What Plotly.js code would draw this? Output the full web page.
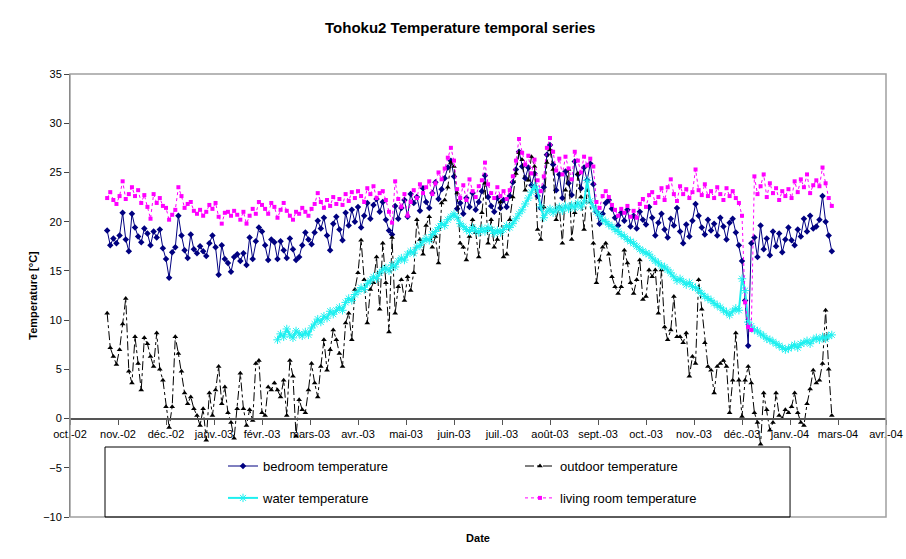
<!DOCTYPE html>
<html><head><meta charset="utf-8">
<script src="https://cdn.plot.ly/plotly-3.0.1.min.js"></script>
<style>html,body{margin:0;padding:0;background:#fff}#chart{width:906px;height:559px}</style>
</head><body><div id="chart"></div>
<script>
// ---- data (one value every 2 days) ----
const START_DATE = '2002-11-15';
const STEP_DAYS = 2;
const WATER_START_INDEX = 55;

const bedroom = [
19.1,17.6,18.3,17.8,18.6, 20.9,18.2,17.0,20.8,19.4, 18.5,17.9,19.3,18.8,17.6, 19.0,18.4,19.2,17.3,16.2,
14.3,16.9,17.4,20.6,18.6, 17.1,16.3,18.7,17.2,16.8, 17.5,17.0,16.5,17.8,18.6, 17.4,14.6,17.6,16.2,15.8,
14.9,16.4,16.7,16.0,16.8, 15.6,18.4,16.2,18.0,19.4, 19.0,17.6,16.1,18.2,17.9, 16.2,18.0,17.1,16.3,18.3,
17.2,16.1,16.4,17.6,18.9, 18.2,17.7,18.9,20.1,19.3, 20.4,18.6,17.1,19.8,20.5, 19.2,18.1,20.9,19.6,21.2,
20.0,21.5,19.4,20.6,21.9, 20.3,21.7,22.3,21.0,22.0, 20.2,19.1,18.7,21.6,20.3, 21.4,22.2,20.5,22.8,21.9,
22.5,21.1,23.4,22.0,21.4, 22.9,24.0,22.3,23.3,24.4, 25.5,26.2,24.6,21.3,21.9, 20.8,22.4,21.5,22.9,21.2,
22.0,23.1,24.7,22.5,21.6, 21.0,22.4,21.4,22.2,21.5, 22.6,24.0,25.3,27.1,25.6, 24.4,25.5,23.7,24.9,22.6,
21.4,23.5,26.8,27.8,25.8, 23.2,24.8,22.4,25.1,23.9, 22.7,26.1,24.8,23.4,25.5, 24.2,25.9,23.8,21.0,19.8,
20.8,21.9,22.2,21.3,20.4, 19.6,20.9,20.1,21.2,19.5, 20.6,19.3,21.0,20.2,19.7, 21.5,20.4,18.6,19.9,20.8,
19.2,18.4,20.3,19.6,21.4, 19.0,17.8,19.7,18.5,20.1, 21.8,20.6,19.4,18.7,20.2, 19.1,19.8,18.6,20.4,19.5,
18.2,19.9,20.3,18.9,17.6, 16.0,12.0,7.4,17.8,18.4, 16.4,19.6,17.2,18.3,16.6, 19.0,17.5,18.8,16.9,18.2,
19.4,18.1,17.6,19.2,18.5, 20.3,19.0,20.6,19.3,19.5, 20.2,22.6,20.0,18.6,17.0
];

const outdoor = [
10.7,7.2,6.3,5.5,7.0, 9.6,12.2,4.8,3.6,8.3, 5.6,2.9,8.2,7.6,6.3, 5.3,8.7,5.0,3.9,1.2,
-0.9,1.2,8.3,6.6,4.8, 2.6,1.5,2.2,1.0,0.3, -0.7,1.0,-2.2,2.6,0.3, 2.9,5.3,1.5,3.2,0.6,
-0.4,-2.0,1.0,4.6,1.0, -0.7,0.9,-0.2,5.6,5.9, 0.6,0.3,3.2,2.9,3.6, 2.9,2.2,3.9,0.3,5.9,
4.3,-1.8,1.9,0.9,0.6, 2.9,5.6,3.6,2.2,5.3, 8.0,4.9,7.0,9.0,8.0, 6.6,5.3,9.7,10.7,8.0,
13.1,14.8,18.1,14.1,9.7, 13.1,13.8,16.4,11.1,17.8, 13.8,8.8,18.4,10.7,13.4, 14.1,12.0,14.4,13.0,14.8,
20.2,18.2,16.7,19.6,20.5, 17.4,18.5,15.8,21.9,22.2, 23.5,26.0,25.6,22.9,17.8, 17.4,16.1,18.5,20.2,18.9,
16.4,20.9,23.9,17.8,20.2, 17.4,18.2,22.0,16.4,16.7, 20.2,22.5,24.9,27.0,26.3, 23.2,24.2,26.6,25.6,19.2,
18.2,21.5,26.0,27.3,25.3, 20.2,21.5,17.8,23.2,25.3, 18.2,20.9,24.9,22.5,19.2, 23.2,22.0,17.8,13.8,16.1,
17.4,17.8,16.7,14.4,13.4, 12.7,13.4,17.1,15.8,13.8, 12.7,14.1,16.1,12.1,12.4, 15.1,14.4,15.1,10.7,15.1,
9.3,8.0,9.0,12.4,8.3, 8.3,7.7,8.7,4.3,6.3, 5.6,14.1,11.1,7.7,5.3, 4.9,2.6,5.3,5.6,5.9,
5.3,0.6,3.9,8.7,3.9, 0.2,3.9,5.3,3.6,0.6, -0.4,-2.6,2.6,0.9,-1.2, -0.4,2.6,0.3,0.0,0.9,
0.6,1.2,2.6,0.6,-0.4, -0.7,1.5,3.0,4.9,3.6, 3.9,5.6,11.0,5.0,0.3
];

const water = [
8.0,8.6,8.3,9.1,8.5, 8.2,8.9,8.6,8.4,8.8, 8.5,9.2,9.6,10.1,9.8, 10.4,10.2,10.9,10.6,11.0,
11.3,11.0,11.8,12.2,12.0, 12.6,12.9,13.3,13.1,13.7, 14.0,14.4,14.2,14.8,15.1, 15.3,15.0,15.6,15.4,16.0,
16.3,16.1,16.7,17.0,16.8, 17.4,17.6,18.0,18.3,18.1, 18.7,19.0,19.4,19.8,19.6, 20.2,20.5,20.8,20.4,19.8,
19.5,19.2,19.0,19.4,19.1, 18.9,19.3,19.0,19.4,19.2, 18.8,19.1,18.9,19.2,19.6, 19.4,19.8,20.3,20.8,21.2,
21.8,22.4,23.0,23.6,23.2, 21.5,20.4,21.0,21.3,20.9, 21.2,21.5,21.1,21.6,21.3, 21.7,21.4,21.9,21.5,22.0,
24.2,22.1,21.5,21.0,20.6, 20.2,20.0,19.7,19.5,19.2, 19.0,18.7,18.5,18.2,18.0, 17.8,17.5,17.2,17.0,16.8,
16.7,16.3,16.0,15.8,15.5, 15.4,15.1,14.8,14.4,14.0, 14.2,13.9,13.6,13.8,13.4, 13.3,13.0,12.7,12.4,12.2,
12.0,11.7,11.5,11.3,11.0, 10.8,10.5,10.9,11.2,11.0, 14.2,13.0,9.8,9.4,9.0, 8.9,8.6,8.4,8.1,8.0,
7.8,7.6,7.4,7.2,7.0, 7.1,7.3,7.5,7.2,7.6, 7.7,7.9,7.6,8.0,8.2, 8.0,8.3,8.1,8.4,8.5
];

const livingRoom = [
22.4,23.0,22.2,21.8,22.6, 24.1,22.3,22.8,23.5,22.6, 23.2,21.9,22.7,21.5,20.3, 22.8,21.9,22.4,21.6,21.4,
20.2,20.7,21.2,23.5,22.6, 21.4,21.8,22.0,21.1,20.8, 21.2,20.6,21.0,21.7,21.3, 21.9,20.5,19.8,20.9,21.0,
20.6,21.1,20.7,20.2,21.0, 19.8,20.6,21.3,20.8,22.0, 21.7,21.3,20.8,21.9,21.5, 20.4,21.2,21.9,21.1,20.6,
20.2,21.0,20.8,21.4,21.0, 20.6,21.3,21.8,22.9,22.0, 21.4,22.2,21.6,22.5,21.8, 22.3,21.7,22.8,22.1,23.0,
22.4,23.1,22.6,22.0,23.4, 22.8,23.6,22.4,22.9,23.1, 22.2,21.0,19.9,24.1,22.3, 21.5,22.8,20.6,22.0,23.2,
22.4,23.8,22.9,23.5,24.1, 22.8,23.9,25.0,24.3,25.4, 26.5,27.5,26.2,23.3,22.4, 23.7,22.2,24.3,23.1,22.5,
23.6,24.2,26.0,23.8,22.9, 22.4,23.5,22.6,23.1,22.3, 23.2,24.6,26.2,28.4,27.0, 25.8,26.7,24.9,26.3,24.2,
23.1,24.6,27.5,28.5,27.1, 25.2,26.4,24.8,26.6,25.4, 24.3,27.1,26.2,25.0,26.6, 25.7,26.4,25.6,22.0,21.4,
22.6,23.1,22.5,21.7,21.2, 20.6,21.3,20.9,21.6,20.5, 21.1,20.4,21.8,22.3,21.5, 22.7,23.0,21.9,22.5,23.4,
22.2,23.5,24.3,22.8,22.1, 23.6,22.8,23.3,22.4,23.0, 25.3,23.2,22.7,23.8,22.6, 23.1,22.4,23.5,22.8,22.2,
23.4,22.6,23.1,22.4,21.9, 20.6,11.8,9.3,9.0,24.6, 22.8,23.6,24.8,22.5,23.9, 22.9,23.4,22.2,23.1,22.6,
23.3,22.4,24.1,23.0,24.3, 23.5,24.8,22.9,23.7,24.2, 23.6,25.5,23.9,22.4,21.6
];

const AXIS_RANGE = ['2002-10-22', '2004-04-01'];
const TICK_DATES = ['2002-10-22','2002-11-22','2002-12-23','2003-01-23','2003-02-23','2003-03-26',
  '2003-04-26','2003-05-27','2003-06-27','2003-07-28','2003-08-28','2003-09-28','2003-10-29',
  '2003-11-29','2003-12-30','2004-01-30','2004-03-01','2004-04-01'];
const TICK_LABELS = ['oct.-02','nov.-02','déc.-02','janv.-03','févr.-03','mars-03','avr.-03','mai-03',
  'juin-03','juil.-03','août-03','sept.-03','oct.-03','nov.-03','déc.-03','janv.-04','mars-04','avr.-04'];
const Y_RANGE = [-10, 35];

// ---- build ----
const t0 = new Date(START_DATE + 'T00:00:00Z').getTime();
function dateAt(i){ return new Date(t0 + i*STEP_DAYS*86400000).toISOString().slice(0,10); }
const dates = bedroom.map((_, i) => dateAt(i));
const waterDates = water.map((_, i) => dateAt(i + WATER_START_INDEX));

const FONT = 'Liberation Sans, Arial, sans-serif';

const traces = [
  {name:'bedroom temperature', x:dates, y:bedroom, type:'scatter', mode:'lines+markers',
   line:{color:'#000080', width:1}, marker:{symbol:'diamond', size:5, color:'#000080'}, legend:'legend'},
  {name:'outdoor temperature', x:dates, y:outdoor, type:'scatter', mode:'lines+markers',
   line:{color:'#000000', width:1, dash:'dashdot'}, marker:{symbol:'triangle-up', size:5, color:'#000000'}, legend:'legend'},
  {name:'water temperature', x:waterDates, y:water, type:'scatter', mode:'lines+markers',
   line:{color:'#1ff0f0', width:2}, marker:{symbol:'asterisk-open', size:7, color:'#1ff0f0', line:{color:'#1ff0f0', width:1}}, legend:'legend2'},
  {name:'living room temperature', x:dates, y:livingRoom, type:'scatter', mode:'lines+markers',
   line:{color:'#ff00ff', width:1, dash:'dot'}, marker:{symbol:'square', size:4, color:'#ff00ff'}, legend:'legend2'}
];

const legendCommon = {orientation:'h', xanchor:'left', yanchor:'middle', x:0.1875,
  entrywidth:252, entrywidthmode:'pixels', bgcolor:'rgba(0,0,0,0)', borderwidth:0,
  font:{family:FONT, size:13, color:'#000'}};

const layout = {
  width:906, height:559,
  margin:{l:70, r:20, t:74, b:42},
  paper_bgcolor:'#ffffff', plot_bgcolor:'#ffffff',
  font:{family:FONT, color:'#000'},
  title:{text:'Tohoku2 Temperature temporal series', x:0.508, xanchor:'center', y:0.95, yanchor:'middle',
         font:{family:FONT, size:15, weight:'bold', color:'#000'}},
  xaxis:{type:'date', range:AXIS_RANGE, tickmode:'array', tickvals:TICK_DATES, ticktext:TICK_LABELS,
         anchor:'free', position:(0 - Y_RANGE[0])/(Y_RANGE[1]-Y_RANGE[0]), automargin:false,
         showline:true, linecolor:'#555', linewidth:2, ticks:'outside', ticklen:5, tickcolor:'#555',
         showgrid:false, zeroline:false, tickfont:{family:FONT, size:11, color:'#000'},
         title:{text:'Date', standoff:95, font:{family:FONT, size:11, weight:'bold', color:'#000'}}},
  yaxis:{range:Y_RANGE, dtick:5, tick0:0, ticks:'outside', ticklen:5, tickcolor:'#444',
         showline:true, linecolor:'#444', linewidth:1, showgrid:false, zeroline:false, automargin:false,
         tickfont:{family:FONT, size:11, color:'#000'},
         title:{text:'Temperature [°C]', standoff:3, font:{family:FONT, size:11, weight:'bold', color:'#000'}}},
  legend:Object.assign({}, legendCommon, {y:0.115}),
  legend2:Object.assign({}, legendCommon, {y:0.043}),
  shapes:[
    {type:'rect', xref:'paper', yref:'paper', x0:0, x1:1, y0:0, y1:1, line:{color:'#a0a0a0', width:1.5}},
    {type:'rect', xref:'paper', yref:'paper', x0:0.0429, x1:0.8824, y0:0, y1:0.158, line:{color:'#000', width:1}}
  ]
};

Plotly.newPlot('chart', traces, layout, {displayModeBar:false, staticPlot:true});
</script></body></html>
